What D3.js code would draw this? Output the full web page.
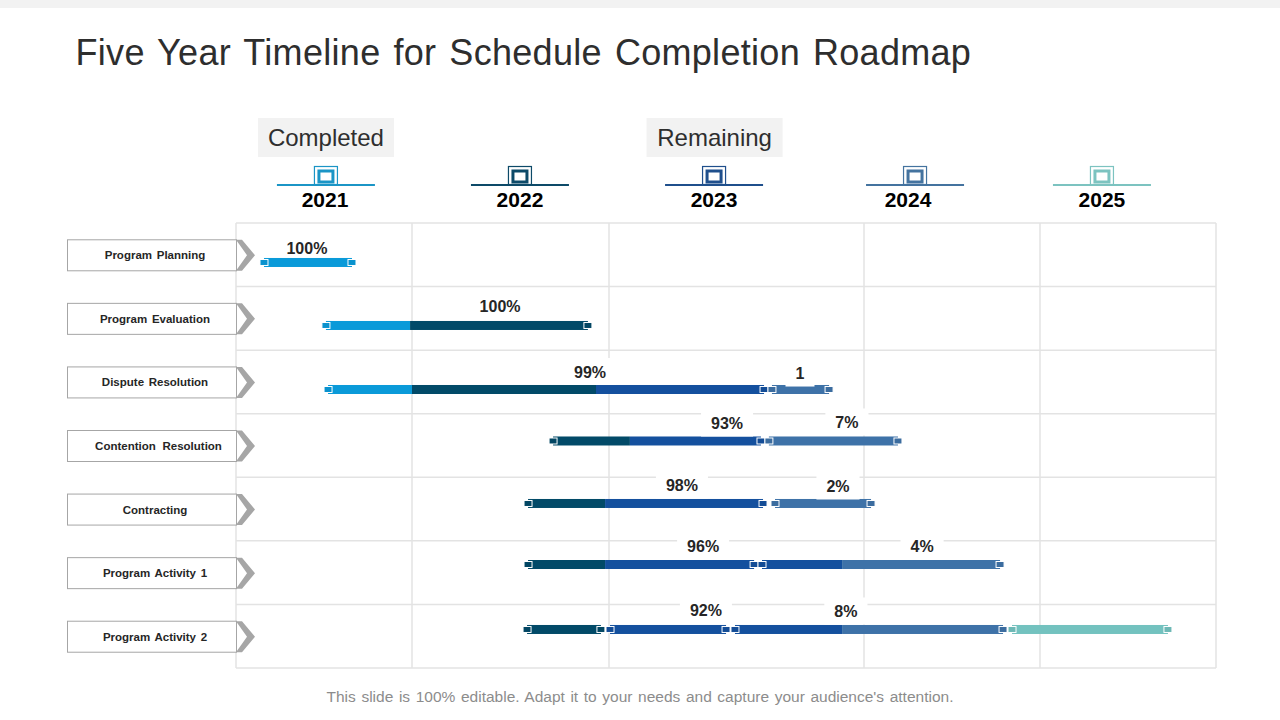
<!DOCTYPE html>
<html>
<head>
<meta charset="utf-8">
<script src="https://cdn.jsdelivr.net/npm/d3@7"></script>
<style>
  html, body { margin: 0; padding: 0; background: #fff; overflow: hidden; }
  text { font-family: "Liberation Sans", Arial, sans-serif; }
</style>
</head>
<body>
<div id="chart"></div>
<script>
// chart values
var programs = ["Program Planning", "Program Evaluation", "Dispute Resolution", "Contention Resolution",
  "Contracting", "Program Activity 1", "Program Activity 2"];
var years = [2021, 2022, 2023, 2024, 2025];
var gridYears = [2021, 2022, 2023, 2024, 2025, 2026];
var yearColors = ["#0a9ad9", "#024a68", "#14509e", "#3e72a8", "#73c2bf"];
var headerColors = ["#1b95c6", "#0d4a68", "#1f4f8c", "#44739f", "#7cc3c0"];

// where the year headers sit on the time axis
var yearTextAt = [2021.506, 2022.548, 2023.412, 2024.25, 2025.352];
var yearMarkAt = [2021.511, 2022.548, 2023.412, 2024.29, 2025.352];
var tagText = ["Completed", "Remaining"];
var tagAt = [2021.511, 2023.414];

// bar level of each row, in row units
var barLevel = [0.621, 1.612, 2.619, 3.429, 4.412, 5.372, 6.394];

// one entry per coloured piece of a bar
var segRow = [0, 1, 1, 2, 2, 2, 2, 3, 3, 3, 4, 4, 4, 5, 5, 5, 5, 6, 6, 6, 6, 6];
var segYear = [0, 0, 1, 0, 1, 2, 3, 1, 2, 3, 1, 2, 3, 1, 2, 2, 3, 1, 2, 2, 3, 4];
var segFrom = [2021.159, 2021.511, 2021.989, 2021.523, 2022, 2022.934, 2023.639, 2022.716, 2023.082, 2023.627,
  2022.589, 2022.98, 2023.651, 2022.589, 2022.98, 2023.6, 2023.914, 2022.584, 2023.004, 2023.494, 2023.914, 2024.841];
var segTo = [2021.659, 2021.989, 2022.893, 2022, 2022.934, 2023.608, 2023.863, 2023.082, 2023.596, 2024.193,
  2022.98, 2023.604, 2024.04, 2022.98, 2023.569, 2023.914, 2024.773, 2022.959, 2023.459, 2023.914, 2024.79, 2025.727];
var segCapFrom = [1, 1, 0, 1, 0, 0, 1, 1, 0, 1, 1, 0, 1, 1, 0, 1, 0, 1, 1, 1, 0, 1];
var segCapTo = [1, 0, 1, 0, 0, 1, 1, 0, 1, 1, 0, 1, 1, 0, 1, 0, 1, 1, 1, 0, 1, 1];

// percent labels
var pctText = ["100%", "100%", "99%", "1", "93%", "7%", "98%", "2%", "96%", "4%", "92%", "8%"];
var pctAt = [2021.403, 2022.447, 2022.904, 2023.749, 2023.463, 2023.933, 2023.286, 2023.898, 2023.369, 2024.33, 2023.38, 2023.929];
var pctLevel = [0.4, 1.306, 2.336, 2.36, 3.146, 3.13, 4.121, 4.137, 5.081, 5.081, 6.088, 6.103];
var pctBoxed = [0, 1, 1, 1, 1, 1, 1, 1, 1, 1, 1, 1];

var svgWidth = 1280;
var svgHeight = 720;

var svg = d3
  .select("#chart")
  .append("svg")
  .attr("width", svgWidth)
  .attr("height", svgHeight)
  .style("display", "block");

// the years are not equally wide on the slide
var xScale = d3.scaleLinear()
  .domain(gridYears)
  .range([236, 412, 609, 864, 1040, 1216]);

var yScale = d3.scaleLinear()
  .domain([0, programs.length])
  .range([223, 668]);

// top strip, title, footer
svg.append("rect")
  .attr("width", svgWidth)
  .attr("height", 8)
  .attr("fill", "#f2f2f2");

svg.append("text")
  .attr("x", 75.5)
  .attr("y", 65)
  .attr("font-size", 36)
  .attr("letter-spacing", 0.3)
  .attr("word-spacing", 2.7)
  .attr("fill", "#2e2e2e")
  .text("Five Year Timeline for Schedule Completion Roadmap");

svg.append("text")
  .attr("x", 640)
  .attr("y", 702)
  .attr("text-anchor", "middle")
  .attr("font-size", 15.5)
  .attr("word-spacing", 1.3)
  .attr("fill", "#8c8c8c")
  .text("This slide is 100% editable. Adapt it to your needs and capture your audience's attention.");

// grid
var gridGroup = svg.append("g")
  .attr("stroke", "#e3e3e3")
  .attr("stroke-width", 1.5);

gridGroup.selectAll(".h-line")
  .data(d3.range(programs.length + 1))
  .enter()
  .append("line")
  .attr("class", "h-line")
  .attr("x1", xScale(gridYears[0]))
  .attr("x2", xScale(gridYears[gridYears.length - 1]))
  .attr("y1", d => yScale(d))
  .attr("y2", d => yScale(d));

gridGroup.selectAll(".v-line")
  .data(gridYears)
  .enter()
  .append("line")
  .attr("class", "v-line")
  .attr("x1", d => xScale(d))
  .attr("x2", d => xScale(d))
  .attr("y1", yScale(0))
  .attr("y2", yScale(programs.length));

// Completed / Remaining tags
var headerTags = svg.selectAll(".tag")
  .data(tagText)
  .enter()
  .append("g")
  .attr("class", "tag")
  .attr("transform", (d, i) => `translate(${xScale(tagAt[i])}, 0)`);

headerTags.append("rect")
  .attr("x", -68)
  .attr("y", 118)
  .attr("width", 136)
  .attr("height", 39)
  .attr("fill", "#f2f2f2");

headerTags.append("text")
  .attr("y", 146)
  .attr("text-anchor", "middle")
  .attr("font-size", 24)
  .attr("fill", "#2e2e2e")
  .text(d => d);

// year headers
var headers = svg.selectAll(".year")
  .data(years)
  .enter()
  .append("g")
  .attr("class", "year");

headers.append("line")
  .attr("x1", (d, i) => xScale(yearMarkAt[i]) - 49)
  .attr("x2", (d, i) => xScale(yearMarkAt[i]) + 49)
  .attr("y1", 185)
  .attr("y2", 185)
  .attr("stroke", (d, i) => headerColors[i])
  .attr("stroke-width", 2);

headers.append("rect")
  .attr("x", (d, i) => xScale(yearMarkAt[i]) - 11.5)
  .attr("y", 166.5)
  .attr("width", 23)
  .attr("height", 18)
  .attr("fill", "#fff")
  .attr("stroke", (d, i) => headerColors[i])
  .attr("stroke-width", 1.2);

headers.append("rect")
  .attr("x", (d, i) => xScale(yearMarkAt[i]) - 7)
  .attr("y", 171)
  .attr("width", 14)
  .attr("height", 11)
  .attr("fill", "#fff")
  .attr("stroke", (d, i) => headerColors[i])
  .attr("stroke-width", 3);

headers.append("text")
  .attr("x", (d, i) => xScale(yearTextAt[i]))
  .attr("y", 207)
  .attr("text-anchor", "middle")
  .attr("font-size", 21)
  .attr("font-weight", "bold")
  .attr("fill", "#000")
  .text(d => d);

// program tags on the left
var tags = svg.selectAll(".program")
  .data(programs)
  .enter()
  .append("g")
  .attr("class", "program")
  .attr("transform", (d, i) => `translate(0, ${yScale(i + 0.5) + 0.5})`);

tags.append("rect")
  .attr("x", 67.5)
  .attr("y", -15.5)
  .attr("width", 169)
  .attr("height", 31)
  .attr("fill", "#fff")
  .attr("stroke", "#a6a6a6");

tags.append("path")
  .attr("d", "M236,-15.5 L242,-15.5 L255,0 L242,15.5 L236,15.5 L247,0 Z")
  .attr("fill", "#a6a6a6");

// the Contention label is set wider and further right on the slide
tags.append("text")
  .attr("x", d => d === "Contention Resolution" ? 158.5 : 155)
  .attr("y", 4)
  .attr("text-anchor", "middle")
  .attr("font-size", 11.5)
  .attr("font-weight", "bold")
  .attr("word-spacing", d => d === "Contention Resolution" ? 3.5 : 1.5)
  .attr("fill", "#262626")
  .text(d => d);

// bars
var segIndex = d3.range(segRow.length);
var barHeight = 9;

svg.selectAll(".seg")
  .data(segIndex)
  .enter()
  .append("rect")
  .attr("class", "seg")
  .attr("x", i => xScale(segFrom[i]))
  .attr("width", i => xScale(segTo[i]) - xScale(segFrom[i]))
  .attr("y", i => yScale(barLevel[segRow[i]]) - barHeight / 2)
  .attr("height", barHeight)
  .attr("fill", i => yearColors[segYear[i]]);

// little end caps, white edge shows only where they sit on the bar
var caps = [];
segIndex.forEach(function(i) {
  if (segCapFrom[i]) caps.push({ at: segFrom[i], row: segRow[i], year: segYear[i] });
  if (segCapTo[i]) caps.push({ at: segTo[i], row: segRow[i], year: segYear[i] });
});

svg.selectAll(".cap")
  .data(caps)
  .enter()
  .append("rect")
  .attr("class", "cap")
  .attr("x", d => xScale(d.at) - 4)
  .attr("y", d => yScale(barLevel[d.row]) - 3)
  .attr("width", 8)
  .attr("height", 6)
  .attr("fill", d => d3.color(yearColors[d.year]).darker(0.15))
  .attr("stroke", "#fff")
  .attr("stroke-width", 1);

// percent labels, white box knocks out the grid behind them
var pctGroups = svg.selectAll(".pct")
  .data(pctText)
  .enter()
  .append("g")
  .attr("class", "pct")
  .attr("transform", (d, i) => `translate(${xScale(pctAt[i])}, ${yScale(pctLevel[i])})`);

pctGroups.append("text")
  .attr("y", 6)
  .attr("text-anchor", "middle")
  .attr("font-size", 16)
  .attr("font-weight", "bold")
  .attr("fill", "#262626")
  .text(d => d);

pctGroups.insert("rect", "text")
  .attr("x", function() { return -this.parentNode.querySelector("text").getBBox().width / 2 - 10; })
  .attr("width", function() { return this.parentNode.querySelector("text").getBBox().width + 20; })
  .attr("y", -13.5)
  .attr("height", 27)
  .attr("fill", (d, i) => pctBoxed[i] ? "#fff" : "none");
</script>
</body>
</html>
